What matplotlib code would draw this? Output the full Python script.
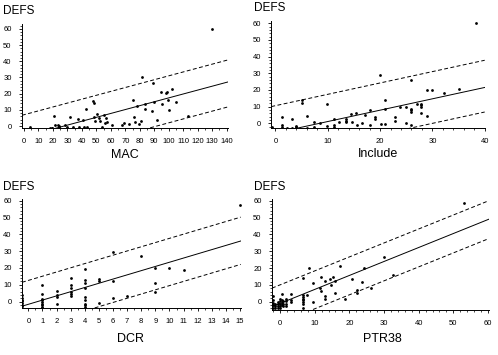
import numpy as np
import matplotlib
matplotlib.use("Agg")
import matplotlib.pyplot as plt
from matplotlib.ticker import MultipleLocator

plt.rcParams['font.family'] = ['Liberation Sans', 'DejaVu Sans']

# MAC vs DEFS
mac_x = [4.1, 18, 19, 19.6, 21, 21.4, 23.3, 24, 24.4, 28.3, 29.5, 31.5, 33.6, 37.3, 38.2,
         41, 41.4, 42.8, 43.7, 47.4, 48.4, 48.1, 49, 50.2, 51.8, 52.7, 54, 55, 56, 56.6,
         57.6, 60.8, 67.7, 69, 72.8, 75, 75.8, 77, 78.3, 79.2, 80.8, 81.7, 83.8, 83.8,
         88.4, 88.9, 89.8, 91.9, 94.4, 95.3, 97.9, 98.8, 99.2, 100.4, 102.2, 105.2,
         113.3, 129.6]
mac_y = [-0.6, -1, -1, -1, 6.2, 0.8, 0.4, -0.6, 0.2, 0.4, -0.6, 5.5, -0.6, 4.3, -0.6,
         3.7, -0.6, 10.7, -0.6, 15.6, 14, 5.3, 3.3, 7.2, 4.7, 3.3, -0.4, 6.8, 1.6, 5.1,
         2.3, 0.8, 0.8, 1.6, 1.4, 15.8, 5.3, 2.3, 12.3, 1, 3.1, 30.4, 10.7, 13.4,
         9.5, 26.3, 14.8, 3.5, 21.2, 13.8, 20.3, 21, 15.8, 9.7, 22.8, 14.8,
         6, 60]

# Include vs DEFS
inc_x = [-0.6, 1.3, 1.3, 1.3, 2.2, 3.2, 3.2, 3.9, 3.9, 5, 5, 6, 6, 7.3, 7.3, 8.5, 9.9, 9.9,
         11.1, 11.1, 11.1, 12.2, 13.4, 13.4, 13.4, 14.5, 14.6, 15.4, 15.5, 16.5, 17.2, 18, 18,
         19, 19, 20, 20.1, 21, 21, 21, 22.9, 22.9, 23.8, 24.9, 25, 25.9, 25.9, 25.9, 25.9, 26,
         27, 27.8, 27.8, 27.8, 27.8, 29, 29, 30, 32.2, 35, 38.4]
inc_y = [-2.2, 4, -1, -2.2, -2.6, 2.4, -2.6, -1.4, -2.2, 13.7, 11.9, 4.4, -2.6, 1, -2.2, 0, 11.7, -1.6,
         2.6, -1, -2.2, 0.8, 2.6, 1.6, 0.6, 5.6, 1, 6.4, -1.2, 0.2, 5.2, 8, -0.8,
         3.6, 2.6, 29, -0.6, 14.1, 8.9, -0.6, 3.6, 1.2, 9.9, 9.9, 0, 26.2, 8.9, 7.9, 6.8, -1.2,
         11.7, 11.7, 10.7, 9.9, 6.4, 19.7, 4.4, 19.9, 18.3, 20.7, 60]

# DCR vs DEFS
dcr_x = [-0.42] * 8 + [1] * 9 + [2] * 4 + [3] * 6 + [4] * 9 + [5] * 3 + [6] * 3 + [7, 8] + [9] * 3 + [10, 11, 15]
dcr_y = [3.8, 2.2, 1.2, 0.2, -0.8, -1.8, -2.8, -3.6,
         9.8, 4.8, 1.8, 0.8, -0.2, -1.2, -2.2, -3.2, -3.6,
         6.2, 4.2, 2.8, -1.2,
         14.2, 9.8, 8.2, 5.8, 4.8, 3.2,
         19.5, 12.8, 11.2, 7.8, 2.8, 1.2, -1.2, -2.2, -3.2,
         13.2, 12.2, -1,
         29.7, 12.2, 2.2,
         3.2, 27.3,
         19.7, 10.8, 5.8,
         20.1, 18.7, 57.2]

# PTR38 vs DEFS
ptr_x = [-2, -2, -2, -2, -2, -1.3, -1.3, -1.3, -0.6, -0.6, -0.6, -0.6, 0, 0, 0, 0, 0,
         0.5, 0.5, 0.5, 0.5, 1, 1, 1, 1.6, 1.6, 1.6, 1.6, 3.2, 3.2, 3.2,
         6.7, 6.7, 6.7, 6.7, 6.7, 6.7, 6.7, 6.7, 7.7, 8.3, 9.4, 9.4, 11.5, 11.8, 11.8,
         13, 13, 13, 14.4, 14.7, 15.4, 15.9, 15.9, 17.3, 18.7, 20.7, 22.1, 22.1, 23.8,
         24.3, 26.2, 29.9, 32.6, 53.2]
ptr_y = [3.2, 0.8, -0.8, -2.2, -3.6, -1.2, -2.8, -3.8, -0.2, -1.6, -2.8, -3.8, 1.8, 0.4, -1.2, -2.6, -3.8,
         4.8, 0.8, -0.8, -2.2, 0.2, -1.2, -2.8, 1.8, 0.4, -1.2, -2.8, 4.4, 0.8, -0.2,
         14.2, 3.8, 2.8, 1.8, 0.8, -0.2, -1.2, -3.6, 3.8, 20.1, 11.2, 0, 8.2, 14.6, 6.2,
         12.4, 3.2, 1.6, 13.6, 9.8, 14.8, 12.2, 5.4, 21.3, 1.8, 13.6, 6.8, 5.4, 11.6,
         20.3, 8.4, 26.7, 15.7, 58.6]

# fitted lines: slope, then intercepts of the fit, upper and lower dashed bands
mac_fit = (0.24, -6.6, 7.0, -22.0)
inc_fit = (0.68, -5.7, 10.6, -20.4)
dcr_fit = (2.5, -1.6, 12.6, -15.5)
ptr_fit = (0.83, -1.0, 10.0, -12.5)

W, H = 498, 355
fig = plt.figure(figsize=(W / 100, H / 100), dpi=100)


def panel(px, x, y, fit, xlim, ylim, xmaj, xmin, name, lab_x, lab_y, defs_x, defs_y):
    # px = left, top, right, bottom in pixels
    l, t, r, b = px
    ax = fig.add_axes([l / W, 1 - b / H, (r - l) / W, (b - t) / H])
    ax.scatter(x, y, s=4, color='black', linewidths=0, zorder=3)
    xs = np.array(xlim)
    k, mid, up, low = fit
    ax.plot(xs, mid + k * xs, color='black', lw=0.7)
    ax.plot(xs, up + k * xs, color='black', lw=0.7, dashes=(4, 2.5))
    ax.plot(xs, low + k * xs, color='black', lw=0.7, dashes=(4, 2.5))
    ax.set_xlim(xlim)
    ax.set_ylim(ylim)
    ax.spines['top'].set_visible(False)
    ax.spines['right'].set_visible(False)
    for s in ('left', 'bottom'):
        ax.spines[s].set_linewidth(0.7)
    ax.xaxis.set_major_locator(MultipleLocator(xmaj))
    ax.xaxis.set_minor_locator(MultipleLocator(xmin))
    ax.yaxis.set_major_locator(MultipleLocator(10))
    ax.yaxis.set_minor_locator(MultipleLocator(2))
    ax.tick_params(which='major', length=2.5, width=0.6, labelsize=5.5, pad=5)
    ax.tick_params(which='minor', length=1.3, width=0.5)
    ax.set_xticks(np.arange(0, xlim[1] + 0.01, xmaj))
    ax.set_yticks(np.arange(0, 61, 10))
    fig.text(lab_x / W, 1 - lab_y / H, name, ha='center', va='center', fontsize=9)
    fig.text(defs_x / W, 1 - defs_y / H, 'DEFS', ha='left', va='center', fontsize=8.5)
    return ax


panel((22, 24, 228, 127.7), mac_x, mac_y, mac_fit, (-1.4, 141), (-1, 63), 10, 5,
      'MAC', 124.5, 155, 3.5, 11.5)
panel((271.3, 20.7, 484.7, 127.7), inc_x, inc_y, inc_fit, (-0.8, 40), (-2.6, 61.5), 10, 2,
      'Include', 378, 154, 253.5, 8)
panel((22, 199, 240.7, 308), dcr_x, dcr_y, dcr_fit, (-0.45, 15.05), (-3.8, 61), 1, 0.5,
      'DCR', 130, 339, 3.5, 187)
panel((272, 199, 488.7, 309.5), ptr_x, ptr_y, ptr_fit, (-2.3, 60.2), (-4.6, 61), 10, 2,
      'PTR38', 382.5, 339, 253.5, 187)

fig.savefig('out.png', dpi=100)
